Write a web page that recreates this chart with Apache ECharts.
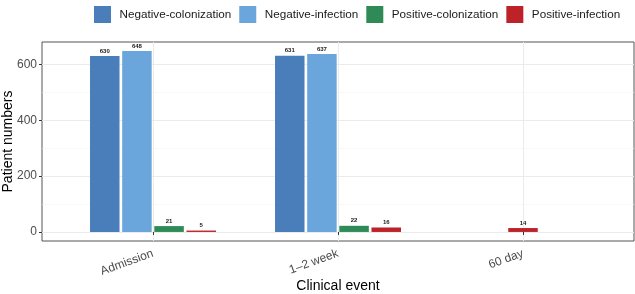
<!DOCTYPE html>
<html><head><meta charset="utf-8">
<script src="https://cdn.jsdelivr.net/npm/echarts@6/dist/echarts.min.js"></script>
<style>html,body{margin:0;padding:0;background:#fff}#c{width:635px;height:294px}</style>
</head><body><div id="c"></div>
<script>
const categories = ['Admission', '1–2 week', '60 day'];
const seriesNames = ['Negative-colonization', 'Negative-infection', 'Positive-colonization', 'Positive-infection'];
const negColonization = [630, 631, null];
const negInfection = [648, 637, null];
const posColonization = [21, 22, null];
const posInfection = [5, 16, 14];
const yMajorTicks = [0, 200, 400, 600];
const yMinorTicks = [100, 300, 500];
const yMin = -32.4, yMax = 680.4;

const colors = ['#4a7ebb', '#6aa6dc', '#2e8b57', '#bd2229'];
const allValues = [negColonization, negInfection, posColonization, posInfection];
const FONT = '"Liberation Sans", Arial, sans-serif';

// category groups that hold more than one series are dodged; single-series groups are centred
const grouped = categories.map((c, i) => allValues.filter(v => v[i] != null).length > 1);

const labelCfg = {
  show: true, position: 'top', distance: 2,
  fontSize: 6, fontWeight: 'bold', color: '#1a1a1a', fontFamily: FONT,
  formatter: p => p.value[1]
};

const series = seriesNames.map((name, s) => ({
  name, type: 'bar', xAxisIndex: 0, yAxisIndex: 0,
  barWidth: 29.5, barGap: '9%',
  itemStyle: { color: colors[s] },
  label: labelCfg,
  data: categories.map((c, i) => (grouped[i] && allValues[s][i] != null) ? [i + 1, allValues[s][i]] : null).filter(d => d)
}));
seriesNames.forEach((name, s) => {
  const solo = categories.map((c, i) => (!grouped[i] && allValues[s][i] != null) ? [i + 1, allValues[s][i]] : null).filter(d => d);
  if (solo.length) series.push({
    name, type: 'bar', xAxisIndex: 1, yAxisIndex: 0, barWidth: 29.5,
    itemStyle: { color: colors[s] }, label: labelCfg, data: solo
  });
});

const xPositions = categories.map((c, i) => i + 1);

const chart = echarts.init(document.getElementById('c'), null, { renderer: 'canvas' });
chart.setOption({
  animation: false,
  textStyle: { fontFamily: FONT },
  legend: {
    data: seriesNames, top: 1, left: 89, width: 560, icon: 'rect',
    itemWidth: 17, itemHeight: 17, itemGap: 8,
    textStyle: { fontSize: 11.7, color: '#1a1a1a', fontFamily: FONT, padding: [0, 0, 0, 3.5] }
  },
  grid: { left: 42, right: 1, top: 42, bottom: 53, show: true, borderColor: '#555', borderWidth: 1,
    backgroundColor: '#fff', containLabel: false, outerBoundsMode: 'none' },
  xAxis: [{
    type: 'value', min: 0.4, max: 3.6,
    axisLine: { show: false },
    axisTick: { show: true, length: 3, customValues: xPositions, lineStyle: { color: '#333' } },
    axisLabel: { customValues: xPositions, rotate: 20, margin: 12, fontSize: 12, color: '#4d4d4d', fontFamily: FONT,
      formatter: v => categories[Math.round(v) - 1] },
    splitLine: { show: true, lineStyle: { color: '#ebebeb', width: 1 } },
    name: 'Clinical event', nameLocation: 'middle', nameGap: 38, nameMoveOverlap: false,
    nameTextStyle: { fontSize: 14, color: '#000', fontFamily: FONT }
  }, {
    type: 'value', min: 0.4, max: 3.6, show: false
  }],
  yAxis: [{
    type: 'value', min: yMin, max: yMax,
    axisLine: { show: false },
    axisTick: { show: true, length: 3, customValues: yMajorTicks, lineStyle: { color: '#333' } },
    axisLabel: { customValues: yMajorTicks, margin: 5, fontSize: 12, color: '#4d4d4d', fontFamily: FONT },
    splitLine: { show: true, lineStyle: { color: '#ebebeb', width: 1 } },
    name: 'Patient numbers', nameLocation: 'middle', nameGap: 27, nameMoveOverlap: false,
    nameTextStyle: { fontSize: 14, color: '#000', fontFamily: FONT }
  }, {
    type: 'value', min: yMin, max: yMax,
    axisLine: { show: false }, axisLabel: { show: false },
    axisTick: { show: false, customValues: yMinorTicks },
    splitLine: { show: true, lineStyle: { color: '#f3f3f3', width: 0.6 } }
  }],
  series
});
</script></body></html>
